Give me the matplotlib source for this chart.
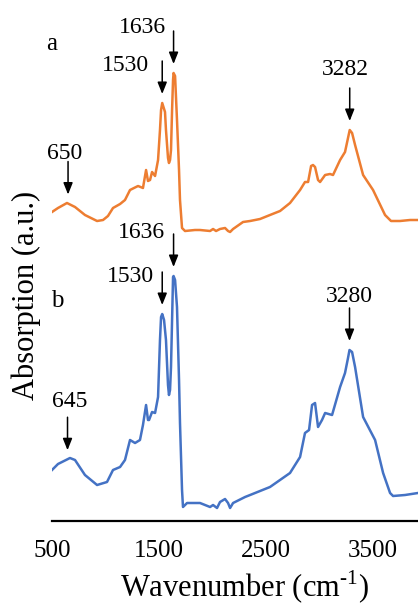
import numpy as np
import matplotlib
matplotlib.use("Agg")
import matplotlib.pyplot as plt

plt.rcParams['font.family'] = ['Liberation Serif', 'DejaVu Serif']
plt.rcParams['mathtext.fontset'] = 'custom'
plt.rcParams['mathtext.rm'] = 'Liberation Serif'

# Spectrum a (upper, orange)
wn_a = [500, 556, 640, 715, 808, 921, 977, 1023, 1070, 1136, 1182, 1229, 1266,
        1304, 1350, 1379, 1397, 1416, 1435, 1463, 1491, 1509, 1519, 1530, 1556,
        1565, 1584, 1593, 1603, 1612, 1622, 1631, 1636, 1650, 1668, 1687, 1696,
        1715, 1743, 1836, 1883, 1977, 2005, 2033, 2070, 2117, 2145, 2164, 2192,
        2285, 2351, 2444, 2537, 2631, 2724, 2818, 2864, 2893, 2921, 2939, 2958,
        2986, 3005, 3052, 3098, 3126, 3192, 3238, 3266, 3282, 3304, 3332, 3407,
        3500, 3612, 3668, 3752, 3846, 3920]
abs_a = [3.09, 3.13, 3.18, 3.14, 3.06, 3.00, 3.01, 3.05, 3.13, 3.17, 3.21, 3.31,
         3.33, 3.35, 3.33, 3.51, 3.40, 3.41, 3.49, 3.45, 3.61, 3.91, 4.11, 4.18,
         4.09, 3.91, 3.63, 3.58, 3.61, 3.71, 4.11, 4.41, 4.48, 4.45, 4.01, 3.51,
         3.21, 2.93, 2.90, 2.91, 2.91, 2.90, 2.92, 2.90, 2.92, 2.93, 2.90, 2.89,
         2.92, 2.99, 3.00, 3.02, 3.06, 3.10, 3.18, 3.31, 3.39, 3.39, 3.55, 3.56,
         3.54, 3.41, 3.39, 3.46, 3.47, 3.46, 3.61, 3.69, 3.83, 3.91, 3.88, 3.76,
         3.46, 3.31, 3.06, 3.00, 3.00, 3.01, 3.01]

# Spectrum b (lower, blue)
wn_b = [500, 556, 668, 715, 808, 921, 1014, 1070, 1136, 1182, 1229, 1276, 1322,
        1350, 1379, 1397, 1407, 1435, 1463, 1491, 1509, 1519, 1530, 1547, 1565,
        1584, 1593, 1603, 1612, 1622, 1631, 1636, 1650, 1668, 1687, 1696, 1715,
        1724, 1762, 1883, 1977, 2005, 2042, 2070, 2117, 2145, 2164, 2192, 2304,
        2351, 2537, 2724, 2818, 2864, 2902, 2930, 2958, 2986, 3023, 3052, 3117,
        3192, 3238, 3266, 3280, 3304, 3332, 3407, 3519, 3594, 3659, 3687, 3799,
        3920]
abs_b = [0.51, 0.57, 0.63, 0.61, 0.46, 0.36, 0.39, 0.51, 0.54, 0.61, 0.81, 0.78,
         0.81, 0.96, 1.16, 1.01, 1.01, 1.09, 1.08, 1.24, 1.81, 2.04, 2.07, 2.01,
         1.81, 1.36, 1.26, 1.31, 1.54, 2.01, 2.44, 2.45, 2.41, 2.14, 1.41, 0.98,
         0.31, 0.14, 0.18, 0.18, 0.14, 0.16, 0.13, 0.19, 0.22, 0.18, 0.13, 0.18,
         0.24, 0.26, 0.34, 0.48, 0.64, 0.88, 0.91, 1.16, 1.18, 0.94, 1.01, 1.08,
         1.06, 1.34, 1.48, 1.63, 1.71, 1.69, 1.54, 1.04, 0.81, 0.48, 0.28, 0.25,
         0.26, 0.28]

peaks_a = [650, 1530, 1636, 3282]
peaks_b = [645, 1530, 1636, 3280]
# label offsets from arrow tail (pixels)
offs_a = [(-3, 3), (-37, -10), (-31, -2), (-4, 13)]
offs_b = [(2, 10), (-32, -10), (-32, -4), (0, 6)]

tick_vals = [500, 1500, 2500, 3500]

fig = plt.figure(figsize=(4.18, 6.06), dpi=100)
ax = fig.add_axes([52 / 418, 85 / 606, 366 / 418, 521 / 606])

ax.plot(wn_a, abs_a, color='#ED7D31', lw=1.8)
ax.plot(wn_b, abs_b, color='#4472C4', lw=1.8)

gap, length = 0.09, 0.33
for wn, ab, peaks, offs in [(wn_a, abs_a, peaks_a, offs_a), (wn_b, abs_b, peaks_b, offs_b)]:
    for p, (dx, dy) in zip(peaks, offs):
        tip = np.interp(p, wn, ab) + gap
        tail = tip + length
        ax.annotate('', xy=(p, tip), xytext=(p, tail),
                    arrowprops=dict(arrowstyle='-|>,head_length=0.5,head_width=0.2',
                                    color='black', lw=1.1, mutation_scale=14,
                                    shrinkA=0, shrinkB=0))
        ax.annotate(str(p), xy=(p, tail), xytext=(dx, dy), textcoords='offset pixels',
                    ha='center', va='baseline', fontsize=17)

ax.text(500, 4.71, 'a', ha='center', va='baseline', fontsize=18)
ax.text(547, 2.14, 'b', ha='center', va='baseline', fontsize=18)

ax.set_xlim(500, 3920)
ax.set_ylim(0, 5.21)
ax.set_xticks(tick_vals)
ax.set_xticklabels([str(t) for t in tick_vals])
ax.set_yticks([])
ax.tick_params(axis='x', length=0, pad=14, labelsize=18)
for s in ['top', 'right', 'left']:
    ax.spines[s].set_visible(False)
ax.spines['bottom'].set_linewidth(1.6)

fig.text(245 / 418, 1 - 597 / 606, r'Wavenumber (cm$^{\text{-1}}$)',
         ha='center', va='baseline', fontsize=22)
fig.text(26 / 418, 1 - 295 / 606, 'Absorption (a.u.)', rotation=90,
         ha='center', va='center', fontsize=22)

fig.savefig('out.png', dpi=100)
